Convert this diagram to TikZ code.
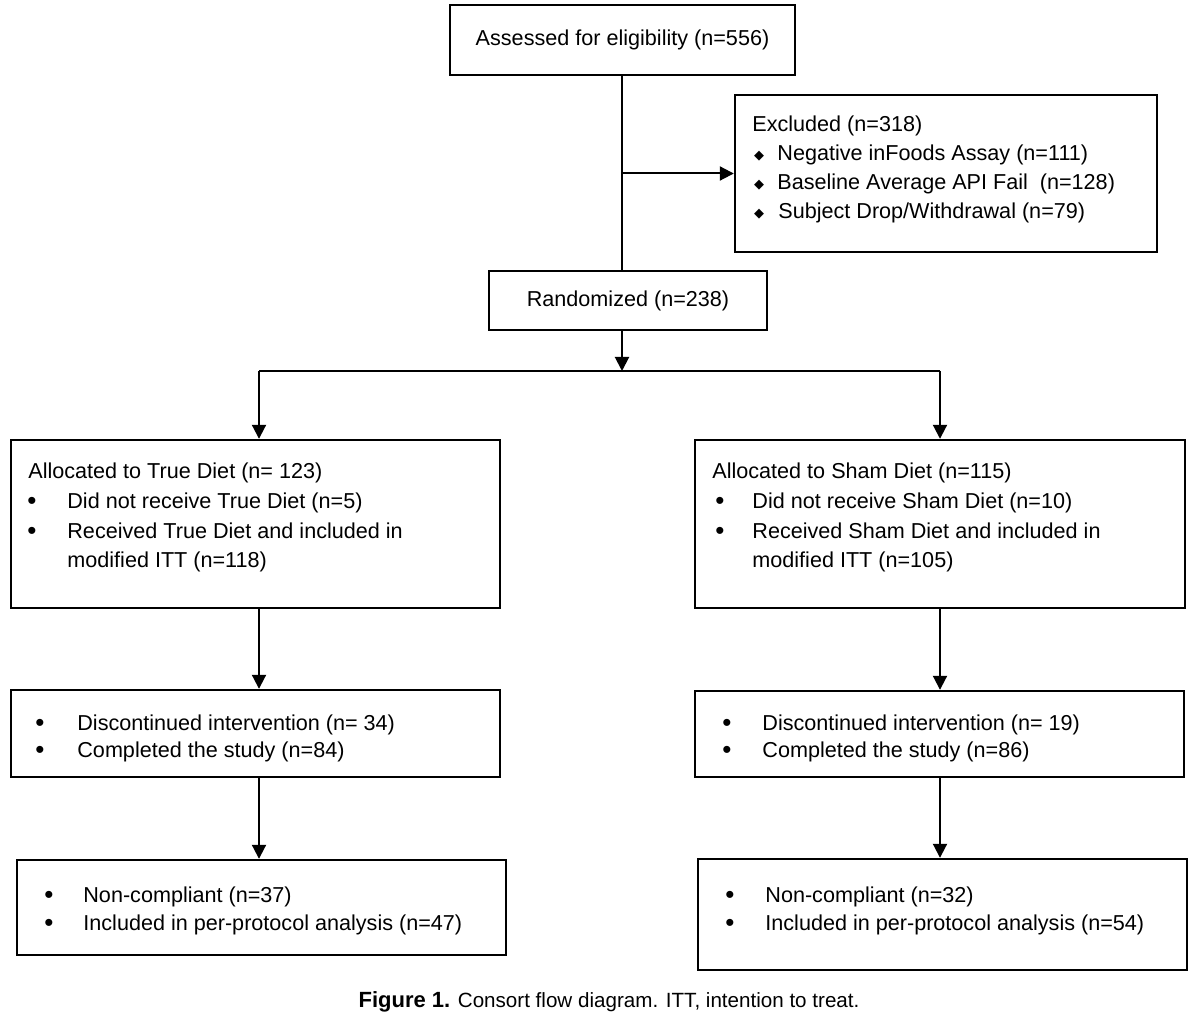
\documentclass[tikz,border=0pt]{standalone}
\usepackage{fontspec}
\setmainfont{Liberation Sans}
\newfontfamily\dejavu{DejaVu Sans}
\usetikzlibrary{arrows.meta}
\begin{document}
\begin{tikzpicture}[x=0.5pt,y=-0.5pt,
  box/.style={draw, line width=1.2pt, rectangle, inner sep=0pt, font=\fontsize{10.8}{13}\selectfont},
  conn/.style={line width=1pt},
  arr/.style={line width=1pt, -{Triangle[length=7pt,width=7pt]}},
  txt/.style={anchor=base west, inner sep=0pt, font=\fontsize{10.8}{13}\selectfont},
  bul/.style={anchor=base, inner sep=0pt, font=\fontsize{13}{13}\selectfont},
  dia/.style={anchor=base, inner sep=0pt, font=\dejavu\fontsize{6.5}{7}\selectfont},
  captext/.style={anchor=base, inner sep=0pt, font=\fontsize{10.3}{13}\selectfont}]
\useasboundingbox (0,0) rectangle (1200,1016);
\fill[white] (0,0) rectangle (1200,1016);

% boxes
\node[box, minimum width=172.5pt, minimum height=35pt] (assess) at (622.5,40) {Assessed for eligibility (n=556)};
\node[box, minimum width=211pt, minimum height=78.5pt] (excl) at (946,173.5) {};
\node[box, minimum width=139pt, minimum height=29.5pt] (rand) at (628,300.5) {Randomized (n=238)};
\node[box, minimum width=244.5pt, minimum height=84pt] (L1) at (255.5,524) {};
\node[box, minimum width=245pt, minimum height=84pt] (R1) at (940,524) {};
\node[box, minimum width=244.5pt, minimum height=43.5pt] (L2) at (255.5,733.5) {};
\node[box, minimum width=244.5pt, minimum height=43pt] (R2) at (939.5,734) {};
\node[box, minimum width=244.5pt, minimum height=47.5pt] (L3) at (261.5,907.5) {};
\node[box, minimum width=244.5pt, minimum height=55.5pt] (R3) at (942.5,914.5) {};

% connector helpers
\coordinate (spine) at (622,0);
\coordinate (split) at (622,371);
\coordinate (lx) at (259,371);
\coordinate (rx) at (940,371);

\draw[conn] (assess.south -| spine) -- (rand.north -| spine);
\draw[arr] (excl.west -| spine) -- (excl.west);
\draw[arr] (rand.south -| spine) -- (split);
\draw[conn] (lx) -- (rx);
\draw[arr] (lx) -- (L1.north -| lx);
\draw[arr] (rx) -- (R1.north -| rx);
\draw[arr] (L1.south -| lx) -- (L2.north -| lx);
\draw[arr] (R1.south -| rx) -- (R2.north -| rx);
\draw[arr] (L2.south -| lx) -- (L3.north -| lx);
\draw[arr] (R2.south -| rx) -- (R3.north -| rx);

% excluded text
\node[txt] (e0) at (752,132) {Excluded (n=318)};
\node[dia] (ed1) at (759,160) {◆};
\node[txt] (e1) at (777,161) {Negative inFoods Assay (n=111)};
\node[dia] (ed2) at (759,189) {◆};
\node[txt] (e2) at (777,190) {Baseline Average API Fail\ \ (n=128)};
\node[dia] (ed3) at (759,218) {◆};
\node[txt] (e3) at (778,219) {Subject Drop/Withdrawal (n=79)};

% left box 1
\node[txt] (l10) at (28,478) {Allocated to True Diet (n= 123)};
\node[bul] (l1b1) at (32,509) {•};
\node[txt] (l11) at (67,508) {Did not receive True Diet (n=5)};
\node[bul] (l1b2) at (32,539) {•};
\node[txt] (l12) at (67,538) {Received True Diet and included in};
\node[txt] (l13) at (67,567) {modified ITT (n=118)};

% right box 1
\node[txt] (r10) at (712,478) {Allocated to Sham Diet (n=115)};
\node[bul] (r1b1) at (720,509) {•};
\node[txt] (r11) at (752,508) {Did not receive Sham Diet (n=10)};
\node[bul] (r1b2) at (720,539) {•};
\node[txt] (r12) at (752,538) {Received Sham Diet and included in};
\node[txt] (r13) at (752,567) {modified ITT (n=105)};

% left box 2
\node[bul] (l2b1) at (40,731) {•};
\node[txt] (l21) at (77,730) {Discontinued intervention (n= 34)};
\node[bul] (l2b2) at (40,758) {•};
\node[txt] (l22) at (77,757) {Completed the study (n=84)};

% right box 2
\node[bul] (r2b1) at (727,731) {•};
\node[txt] (r21) at (762,730) {Discontinued intervention (n= 19)};
\node[bul] (r2b2) at (727,758) {•};
\node[txt] (r22) at (762,757) {Completed the study (n=86)};

% left box 3
\node[bul] (l3b1) at (49,903) {•};
\node[txt] (l31) at (83,902) {Non-compliant (n=37)};
\node[bul] (l3b2) at (49,931) {•};
\node[txt] (l32) at (83,930) {Included in per-protocol analysis (n=47)};

% right box 3
\node[bul] (r3b1) at (730,903) {•};
\node[txt] (r31) at (765,902) {Non-compliant (n=32)};
\node[bul] (r3b2) at (730,931) {•};
\node[txt] (r32) at (765,930) {Included in per-protocol analysis (n=54)};

% caption
\node[captext] (caption) at (609,1007) {{\fontsize{11}{13}\selectfont\textbf{Figure 1.}} Consort flow diagram. ITT, intention to treat.};
\end{tikzpicture}
\end{document}
